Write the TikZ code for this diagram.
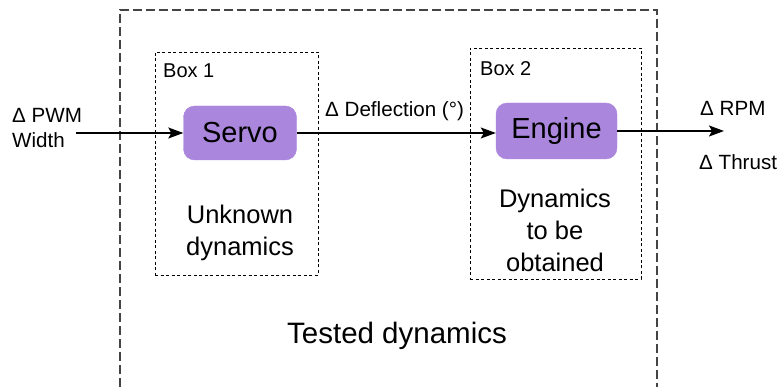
\documentclass[tikz,border=0pt]{standalone}
\usepackage{fontspec}
\setmainfont{Liberation Sans}
\usetikzlibrary{arrows.meta}
\definecolor{boxpurple}{RGB}{170,135,220}
\definecolor{outergray}{RGB}{68,68,68}
\begin{document}
\begin{tikzpicture}[x=1pt,y=-1pt,
  block/.style={fill=boxpurple, draw=boxpurple, rounded corners=11pt, minimum width=113pt, minimum height=54pt, inner sep=0pt, font=\fontsize{29}{32}\selectfont},
  groupbox/.style={draw=black, line width=0.9pt, dash pattern=on 3pt off 2.5pt, inner sep=0pt},
  outerline/.style={draw=outergray, line width=1.3pt, dash pattern=on 9pt off 4pt},
  lbl/.style={inner sep=0pt, font=\fontsize{20.6}{25}\selectfont},
  boxlbl/.style={inner sep=0pt, anchor=west, font=\fontsize{20}{24}\selectfont},
  bigtxt/.style={inner sep=0pt, align=center, font=\fontsize{25.5}{32}\selectfont},
  arr/.style={line width=1.4pt, -{Stealth[length=15pt,width=11pt,inset=3pt]}}
]
\useasboundingbox (0,0) rectangle (779,387);
% outer tested-dynamics box (open at the bottom)
\draw[outerline] (120,387) -- (120,10) -- (657,10) -- (657,387);
% group boxes
\node[groupbox, minimum width=163pt, minimum height=223pt] (box1) at (236.5,163.5) {};
\node[groupbox, minimum width=171pt, minimum height=231pt] (box2) at (555.5,163.5) {};
\node[boxlbl] (box1lbl) at (163,71) {Box 1};
\node[boxlbl] (box2lbl) at (480,69) {Box 2};
% blocks
\node[block] (servo) at (240,133) {Servo};
\node[block, minimum width=121pt, minimum height=56pt] (engine) at (556.5,131) {Engine};
% labels
\node[lbl, anchor=west, align=left] (pwm) at (12,128) {Δ PWM\\Width};
\node[lbl, anchor=west] (defl) at (325,111) {Δ Deflection (°)};
\node[lbl, anchor=west] (rpm) at (700,108) {Δ RPM};
\node[lbl, anchor=west] (thrust) at (699,162) {Δ Thrust};
\node[bigtxt] (unknown) at (240,233) {Unknown\\dynamics};
\node[bigtxt] (tobe) at (555,230) {Dynamics\\to be\\obtained};
\node[inner sep=0pt, font=\fontsize{29.5}{32}\selectfont] (tested) at (397,336) {Tested dynamics};
% connectors
\coordinate (inl) at (76,133);
\coordinate (outr) at (724,131);
\draw[arr] (inl) -- (servo.west);
\draw[arr] (servo.east) -- (servo.east -| engine.west);
\draw[arr] (engine.east) -- (outr);
\end{tikzpicture}
\end{document}
